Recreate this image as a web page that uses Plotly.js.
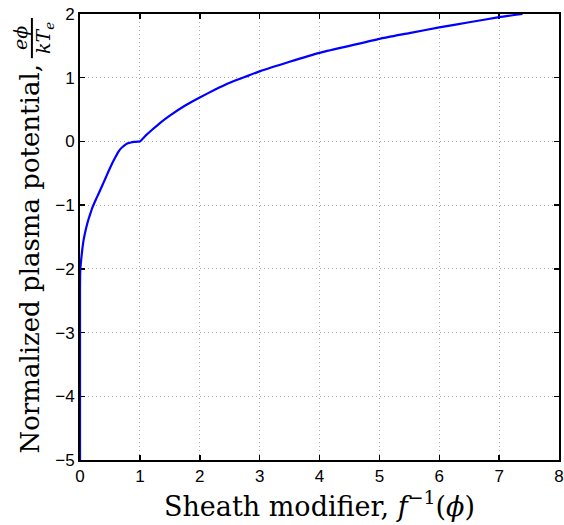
<!DOCTYPE html>
<html>
<head>
<meta charset="utf-8">
<script src="https://cdn.plot.ly/plotly-3.0.1.min.js"></script>
<style>html,body{margin:0;padding:0;background:#fff;}#chart{width:564px;height:525px;}</style>
</head>
<body>
<div id="chart"></div>
<script>
// Sheath modifier values (x) and normalized plasma potential (y)
const sheathModifier = [0, 0, 0.002, 0.006, 0.012, 0.02, 0.035, 0.06, 0.09, 0.13, 0.17, 0.21, 0.256, 0.31, 0.37, 0.42, 0.48, 0.54, 0.59, 0.63, 0.67, 0.72, 0.76, 0.80, 0.85, 0.90, 0.96, 1.0,
  1.1, 1.2, 1.35, 1.5, 1.75, 2.0, 2.25, 2.5, 2.75, 3.0, 3.5, 4.0, 4.5, 5.0, 5.5, 6.0, 6.5, 7.0, 7.39];
const plasmaPotential = [-5, -2.3, -2.1, -2.0, -1.93, -1.85, -1.72, -1.55, -1.41, -1.26, -1.14, -1.03, -0.93, -0.82, -0.695, -0.59, -0.46, -0.34, -0.25, -0.18, -0.125, -0.08, -0.05, -0.03, -0.016, -0.008, -0.002, 0.0,
  0.095, 0.18, 0.30, 0.405, 0.56, 0.69, 0.81, 0.92, 1.01, 1.10, 1.25, 1.39, 1.50, 1.61, 1.70, 1.79, 1.87, 1.95, 2.0];
const xTicks = [0, 1, 2, 3, 4, 5, 6, 7, 8];
const yTicks = [-5, -4, -3, -2, -1, 0, 1, 2];
const xTickText = ['0', '1', '2', '3', '4', '5', '6', '7', '8'];
const yTickText = ['\u22125', '\u22124', '\u22123', '\u22122', '\u22121', '0', '1', '2'];
const xTitle = 'Sheath modifier, <i>f</i><sup>\u22121</sup>(<i>\u03d5</i>)';
const yTitleMain = 'Normalized plasma potential,';
const yTitleNum = '<i>e\u03d5</i>';
const yTitleDen = '<i>kT<sub>e</sub></i>';

const serif = 'DejaVu Serif, Liberation Serif, serif';
const axisCommon = {
  showline: true, linecolor: '#000', linewidth: 2, mirror: 'ticks',
  ticks: 'inside', ticklen: 5, tickwidth: 1.5, tickcolor: '#000',
  showgrid: true, gridcolor: '#a8a8a8', griddash: '1px,3px', gridwidth: 1,
  zeroline: false, tickmode: 'array', layer: 'below traces',
  tickfont: {family: 'Liberation Sans, Arial, sans-serif', size: 17, color: '#000'}
};

const trace = {
  x: sheathModifier, y: plasmaPotential, type: 'scatter', mode: 'lines',
  line: {color: '#0000ff', width: 2.2, shape: 'spline', smoothing: 0.5}, hoverinfo: 'skip', cliponaxis: false
};

const layout = {
  width: 564, height: 525,
  margin: {l: 80, r: 5, t: 14, b: 65},
  paper_bgcolor: '#fff', plot_bgcolor: '#fff',
  showlegend: false,
  xaxis: Object.assign({}, axisCommon, {
    range: [0, 8], tickvals: xTicks, ticktext: xTickText,
    title: {text: xTitle, standoff: 2, font: {family: serif, size: 27, color: '#000'}}
  }),
  yaxis: Object.assign({}, axisCommon, {
    range: [-5, 2], tickvals: yTicks, ticktext: yTickText
  }),
  annotations: [
    {text: yTitleMain, xref: 'paper', yref: 'paper', x: -0.104, y: 0.452, xanchor: 'center', yanchor: 'middle',
      textangle: -90, showarrow: false, font: {family: serif, size: 26, color: '#000'}},
    {text: yTitleNum, xref: 'paper', yref: 'paper', x: -0.1255, y: 0.946, xanchor: 'center', yanchor: 'middle',
      textangle: -90, showarrow: false, font: {family: serif, size: 19, color: '#000'}},
    {text: yTitleDen, xref: 'paper', yref: 'paper', x: -0.0753, y: 0.946, xanchor: 'center', yanchor: 'middle',
      textangle: -90, showarrow: false, font: {family: serif, size: 19, color: '#000'}}
  ],
  shapes: [
    {type: 'line', xref: 'paper', yref: 'paper', x0: -0.1004, x1: -0.1004, y0: 0.901, y1: 0.991,
      line: {color: '#000', width: 2}}
  ]
};

Plotly.newPlot('chart', [trace], layout, {staticPlot: true, displayModeBar: false});
</script>
</body>
</html>
